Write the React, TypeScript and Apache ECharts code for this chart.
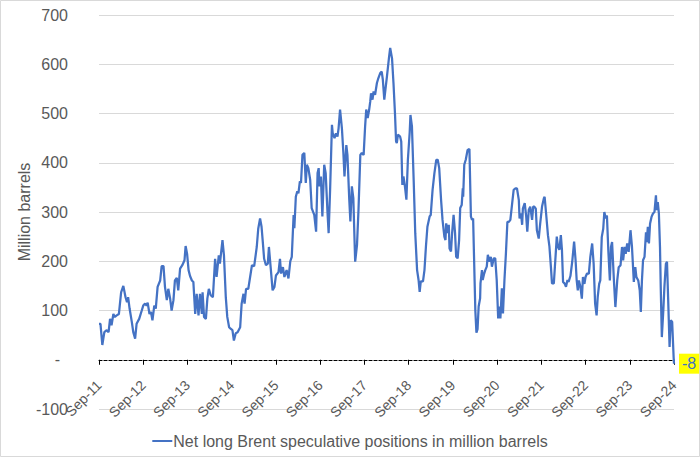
import React, { useEffect, useRef } from "react";
import * as echarts from "echarts";

// Months elapsed since Sep-2011 (x position) and net long positions (million barrels)
const monthsSinceSep11: number[] = [
  0, 0.4, 0.9, 1.45, 2.1, 2.6, 3.0, 3.4, 3.9, 4.3, 4.8, 5.4, 6.0, 6.6, 7.2, 7.6, 7.9, 8.3, 8.9, 9.3,
  9.8, 10.2, 10.9, 11.6, 12.0, 12.5, 12.9, 13.2, 13.7, 14.1, 14.5, 15.0, 15.4, 15.9, 16.6, 17.0, 17.5, 17.9, 18.4, 18.8,
  19.3, 19.7, 20.2, 20.6, 21.1, 21.5, 22.0, 22.6, 23.2, 23.5, 23.9, 24.3, 24.7, 25.2, 25.6,
  26.1, 26.5, 27.0, 27.4, 27.9, 28.1, 28.5, 29.0, 29.4, 29.8, 30.3, 30.9, 31.5, 31.9, 32.5, 32.8, 33.5, 33.9, 34.4, 34.8,
  35.3, 35.7, 36.2, 36.6, 37.1, 37.6, 38.3, 38.7, 39.2, 39.5, 39.9, 40.5, 41.0, 41.5, 42.1, 42.8, 43.2, 43.7, 44.1, 44.4,
  44.8, 45.3, 45.8, 46.1, 46.6, 47.1, 47.6, 48.0, 48.7, 49.1, 49.4, 49.9, 50.3, 50.9, 51.4, 51.9,
  52.3, 52.8, 53.0, 53.4, 53.8, 54.1, 54.5, 54.8, 55.2, 55.7, 56.1, 56.4, 56.8, 57.3, 57.7, 58.4, 58.9, 59.3, 59.6, 59.8,
  60.2, 60.6, 61.1, 61.5, 62.0, 62.3, 62.7, 63.2, 63.4, 63.9, 64.3, 64.7, 65.0, 65.4, 65.9, 66.3, 66.6, 67.1, 67.4, 67.9,
  68.2, 68.6, 69.0, 69.5, 70.0, 70.4, 70.9, 71.3, 71.8, 72.2, 72.5, 72.9, 73.3, 73.6, 73.8, 74.2, 74.5, 74.9, 75.4, 75.8,
  76.3, 76.7, 77.0, 77.4, 77.7, 78.1, 78.7, 79.0, 79.5, 79.9, 80.3, 80.6,
  80.8, 81.1, 81.7, 82.0, 82.3, 82.6, 83.0, 83.4, 83.8, 84.3, 84.5, 84.9, 85.4, 85.8, 86.3, 86.7, 87.0, 87.3, 87.9, 88.3,
  88.7, 89.1, 89.7, 90.0, 90.5, 91.0, 91.5, 91.9, 92.3, 92.8, 93.2, 93.7, 94.0, 94.2, 94.6, 94.9, 95.1, 95.5, 95.8, 96.2,
  96.6, 96.9, 97.3, 97.7, 98.0, 98.4, 98.7, 98.8, 99.1, 99.5, 100.0, 100.5, 100.9, 101.2, 101.5, 101.9, 102.1, 102.4, 102.7, 103.0,
  103.4, 103.5, 103.9, 104.1, 104.5, 104.8, 105.2, 105.5, 105.9, 106.3, 106.6, 107.1, 107.5, 107.9, 108.3, 108.6, 108.9, 109.3, 109.6, 110.0,
  110.4, 110.8, 111.2, 111.6, 112.1, 112.5, 113.0, 113.4, 113.9, 114.1, 114.5, 114.8, 115.0, 115.5, 115.9, 116.2, 116.6, 117.0, 117.5, 117.8,
  118.1, 118.5, 118.8, 119.3, 119.7, 120.2, 120.7, 120.9, 121.3, 121.8, 122.2, 122.6, 122.9, 123.4, 123.8, 124.2, 124.5, 124.9, 125.3, 125.6,
  125.9, 126.3, 126.7, 127.1, 127.4, 127.9, 128.4, 128.9, 129.3, 129.6, 129.9,
  130.2, 130.6, 131.0, 131.3, 131.7, 132.0, 132.4, 132.9, 133.3, 133.8, 134.2, 134.6, 135.0, 135.3, 135.7, 136.0, 136.4, 136.8, 137.1, 137.5,
  137.8, 138.2, 138.6, 138.9, 139.2, 139.7, 140.1, 140.6, 141.0, 141.5, 141.9, 142.2, 142.6, 142.9, 143.3, 143.7, 144.2, 144.6, 145.1, 145.5,
  145.8, 146.3, 146.7, 147.0, 147.3, 147.6, 148.0, 148.4, 148.6, 148.9, 149.2, 149.5, 149.9, 150.3, 150.7, 151.1, 151.3, 151.6, 151.9, 152.2,
  152.4, 152.7, 153.1, 153.4, 153.8, 154.1, 154.4, 154.8, 155.1, 155.5, 155.9, 156.0,
];

const netLong: number[] = [
  73, 73, 30, 56, 60, 56, 83, 70, 93, 87, 90, 93, 137, 150, 127, 117, 127, 104, 77, 56,
  43, 73, 83, 100, 110, 114, 110, 116, 93, 97, 80, 110, 104, 148, 161, 190, 190, 148, 121, 144,
  124, 100, 121, 161, 166, 141, 185, 192, 202, 231, 215, 182, 170, 161, 158,
  93, 134, 90, 134, 93, 137, 87, 83, 124, 144, 131, 127, 205, 168, 212, 195, 243, 212, 127, 87,
  66, 63, 60, 39, 54, 56, 66, 114, 134, 114, 144, 144, 168, 192, 190, 229, 266, 287, 270, 243,
  205, 192, 195, 229, 185, 141, 148, 171, 178, 205, 175, 188, 168, 182, 165, 200,
  209, 294, 267, 331, 342, 338, 362, 359, 416, 420, 359, 396, 389, 365, 308, 294, 260, 379, 389, 352,
  372, 291, 396, 379, 298, 257, 345, 477, 460, 450, 460, 453, 470, 508, 470, 420, 372, 436, 416, 325,
  281, 352, 328, 199, 233, 304, 416, 420, 416, 474, 508, 491, 508, 525, 541, 528, 545, 538, 562, 572,
  582, 585, 569, 528, 548, 574, 615, 633, 612, 561, 500, 443,
  440, 457, 453, 443, 355, 372, 352, 325, 406, 463, 497, 474, 358, 257, 182, 162, 138, 159, 159, 182,
  230, 270, 291, 294, 345, 379, 406, 406, 389, 325, 284, 250, 243, 277, 257, 274, 226, 220, 257, 294,
  257, 209, 206, 243, 308, 314, 348, 331, 396, 406, 426, 428, 291, 284, 287, 162, 100, 55, 62, 108,
  125, 155, 182, 162, 175, 182, 189, 213, 199, 209, 189, 206, 206, 162, 84, 108, 84, 145, 94, 162,
  216, 280, 280, 284, 318, 345, 348, 348, 324, 287, 297, 274, 307, 318, 291, 260, 304, 311, 284, 311,
  311, 307, 263, 246, 277, 311, 328, 331, 297, 253, 230, 189, 155, 155, 202, 250, 230, 223, 253, 223,
  158, 155, 148, 162, 158, 170, 200, 240, 202, 161, 141,
  161, 148, 124, 168, 154, 168, 175, 175, 209, 236, 195, 114, 90, 127, 154, 161, 249, 266, 300, 287,
  293, 219, 161, 229, 239, 161, 107, 161, 188, 192, 229, 202, 229, 215, 236, 219, 263, 229, 158, 188,
  168, 161, 141, 97, 161, 202, 209, 259, 239, 270, 236, 276, 290, 297, 300, 334, 304, 320, 297, 229,
  148, 46, 100, 148, 195, 199, 127, 26, 80, 77, 5, -8,
];

const xTickLabels: string[] = [
  "Sep-11", "Sep-12", "Sep-13", "Sep-14", "Sep-15", "Sep-16", "Sep-17",
  "Sep-18", "Sep-19", "Sep-20", "Sep-21", "Sep-22", "Sep-23", "Sep-24",
];

const seriesName = "Net long Brent speculative positions in million barrels";
const yAxisTitle = "Million barrels";

const Y_MIN = -100;
const Y_MAX = 700;
const GRID_TOP = 15;
const GRID_BOTTOM = 48;
const CHART_H = 457;

export default function App() {
  const ref = useRef<HTMLDivElement>(null);

  useEffect(() => {
    if (!ref.current) return;
    const chart = echarts.init(ref.current, null, { renderer: "svg" });
    const data = monthsSinceSep11.map((m, i) => [m, netLong[i]]);
    const font = "Liberation Sans, Arial, sans-serif";
    // lift the category axis (line, ticks, labels) from the grid bottom up to the zero level
    const plotH = CHART_H - GRID_TOP - GRID_BOTTOM;
    const zeroOffset = -plotH * (0 - Y_MIN) / (Y_MAX - Y_MIN);
    chart.setOption({
      animation: false,
      textStyle: { fontFamily: font },
      grid: { left: 99, right: 26, top: GRID_TOP, bottom: GRID_BOTTOM, containLabel: false },
      xAxis: {
        type: "value",
        min: 0,
        max: 156,
        interval: 12,
        offset: zeroOffset,
        axisLine: { onZero: false, lineStyle: { color: "#000000", width: 1, type: [3, 2] } },
        axisTick: { show: true, length: 5, lineStyle: { color: "#000000", width: 1, type: "solid" } },
        axisLabel: {
          rotate: 45,
          margin: 23,
          color: "#595959",
          fontSize: 14,
          fontFamily: font,
          formatter: (v: number) => xTickLabels[Math.round(v / 12)] ?? "",
        },
        splitLine: { show: false },
      },
      yAxis: {
        type: "value",
        min: Y_MIN,
        max: Y_MAX,
        interval: 100,
        name: yAxisTitle,
        nameLocation: "middle",
        nameGap: 67,
        nameRotate: 90,
        nameMoveOverlap: false,
        nameTextStyle: { color: "#595959", fontSize: 16, fontFamily: font },
        axisLine: { show: false },
        axisTick: { show: false },
        axisLabel: {
          color: "#595959",
          fontSize: 16,
          margin: 31,
          fontFamily: font,
          formatter: (v: number) => (v === 0 ? "{dash|-}" : String(v)),
          rich: { dash: { padding: [0, 8, 0, 0], color: "#595959", fontSize: 16, fontFamily: font } },
        },
        splitLine: { lineStyle: { color: "#d9d9d9", width: 1 } },
      },
      legend: {
        show: true,
        left: "center",
        top: 428,
        icon: "rect",
        itemWidth: 20,
        itemHeight: 2,
        itemGap: 10,
        textStyle: { color: "#595959", fontSize: 16, fontFamily: font, padding: [0, 0, 0, -4] },
        data: [seriesName],
      },
      series: [
        {
          type: "line",
          name: seriesName,
          data,
          symbol: "none",
          showSymbol: false,
          lineStyle: { color: "#4472C4", width: 2.25 },
          itemStyle: { color: "#4472C4" },
          endLabel: {
            show: true,
            formatter: (p: any) => String(p.value[1]),
            color: "#4472C4",
            backgroundColor: "#FFFF00",
            padding: [2, 3, 2, 3],
            fontSize: 16,
            fontFamily: font,
            distance: 5,
          },
          z: 3,
        },
      ],
      graphic: [
        {
          type: "rect",
          shape: { x: 0.5, y: 0.5, width: 699, height: 456 },
          style: { fill: "none", stroke: "#d9d9d9", lineWidth: 1 },
          silent: true,
          z: -1,
        },
      ],
    });
    return () => chart.dispose();
  }, []);

  return (
    <div
      ref={ref}
      style={{ position: "absolute", left: 0, top: 0, width: 700, height: 457, background: "#ffffff" }}
    />
  );
}
